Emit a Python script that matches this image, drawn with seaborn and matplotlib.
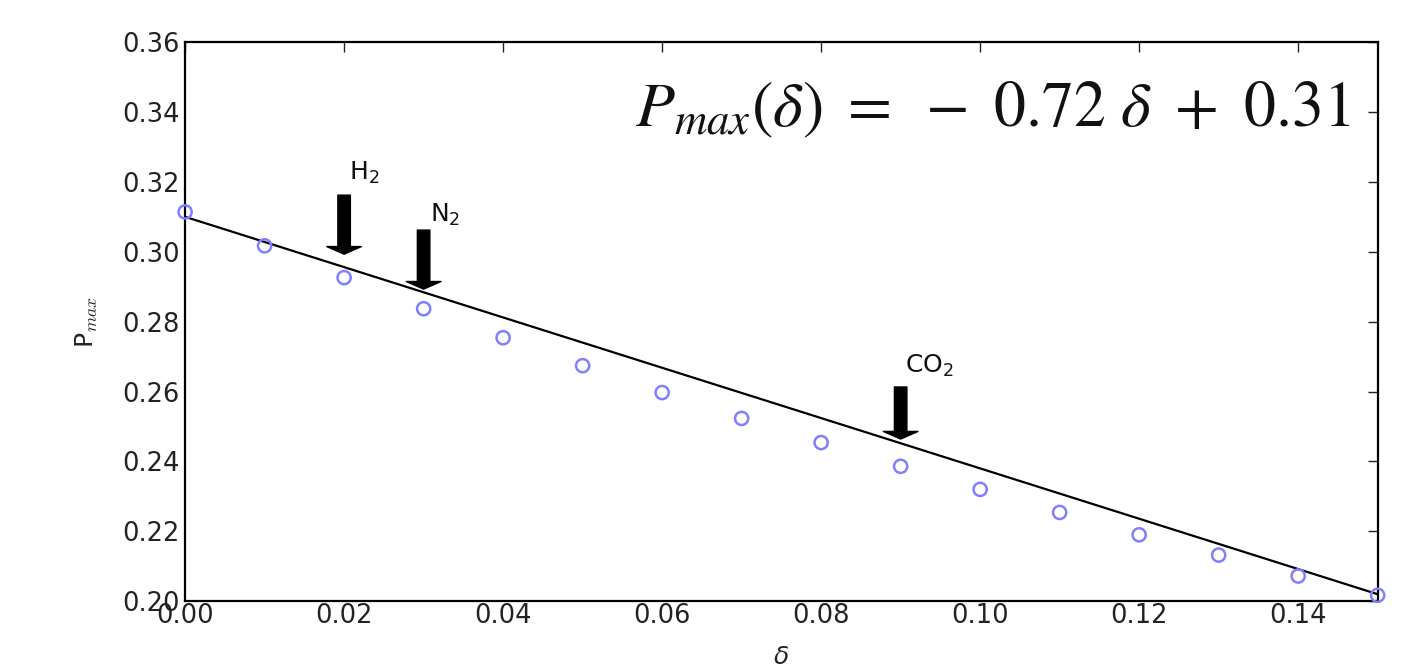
import numpy as np
import pandas as pd
import matplotlib
matplotlib.use("Agg")
import matplotlib.pyplot as plt
import seaborn as sns

# Data
delta = [0.00, 0.01, 0.02, 0.03, 0.04, 0.05, 0.06, 0.07, 0.08, 0.09, 0.10, 0.11, 0.12, 0.13, 0.14, 0.15]
pmax = [0.3114, 0.3017, 0.2926, 0.2837, 0.2754, 0.2674, 0.2597, 0.2523, 0.2454, 0.2386,
        0.2320, 0.2254, 0.2190, 0.2132, 0.2072, 0.2017]
fit_slope = -0.72
fit_intercept = 0.31
gas_labels = ["H$_2$", "N$_2$", "CO$_2$"]
gas_delta = [0.02, 0.03, 0.09]
xticks = [0.00, 0.02, 0.04, 0.06, 0.08, 0.10, 0.12, 0.14]
yticks = [0.20, 0.22, 0.24, 0.26, 0.28, 0.30, 0.32, 0.34, 0.36]

# annotation layout (arrow tip, arrow length, label baseline)
arrow_tip = [0.2993, 0.2893, 0.2464]
arrow_len = [0.0169, 0.0169, 0.0149]
label_x = [0.0206, 0.0308, 0.0905]
label_y = [0.3205, 0.3085, 0.2653]

sns.set_style("white")
plt.rcParams["font.family"] = ["DejaVu Sans"]
plt.rcParams["mathtext.fontset"] = "dejavusans"

fig = plt.figure(figsize=(14.13, 6.68), dpi=100)
ax = fig.add_axes([0.131, 0.100, 0.844, 0.837])

df = pd.DataFrame({"delta": delta, "pmax": pmax})
sns.scatterplot(data=df, x="delta", y="pmax", ax=ax, marker="o", s=90,
                facecolor="none", edgecolor=(0.5, 0.5, 1.0), linewidth=1.8, zorder=3, clip_on=False)

fit_x = np.array([delta[0], delta[-1]])
fit_df = pd.DataFrame({"x": fit_x, "y": fit_slope * fit_x + fit_intercept})
sns.lineplot(data=fit_df, x="x", y="y", ax=ax, color="black", linewidth=1.6, zorder=2)

ax.set_xlim(0, 0.15)
ax.set_ylim(0.20, 0.36)
ax.set_xticks(xticks)
ax.set_yticks(yticks)
ax.set_xticklabels([f"{t:.2f}" for t in xticks])
ax.set_yticklabels([f"{t:.2f}" for t in yticks])
ax.tick_params(direction="in", length=7, width=1, top=True, right=True,
               labelsize=18.5, colors="#222222", pad=4)
ax.tick_params(axis="x", pad=1)
for s in ax.spines.values():
    s.set_linewidth(1.6)
    s.set_color("black")

ax.set_xlabel(r"$\delta$", fontsize=18, labelpad=12)
ax.set_ylabel(r"P$_{max}$", fontsize=18, labelpad=16, math_fontfamily="cm")

for lab, d, tip, ln, lx, ly in zip(gas_labels, gas_delta, arrow_tip, arrow_len, label_x, label_y):
    ax.annotate("", xy=(d, tip), xytext=(d, tip + ln),
                arrowprops=dict(facecolor="black", edgecolor="black", width=9,
                                headwidth=25, headlength=5.5, shrink=0))
    ax.text(lx, ly, lab, fontsize=18, ha="left", va="baseline", color="#111111")

ax.text(0.1465, 0.3358, r"$P_{max}(\delta)\ =\ -\ 0.72\ \delta\ +\ 0.31$", fontsize=46,
        ha="right", va="baseline", math_fontfamily="stix", color="#111111")

fig.savefig("out.png", dpi=100)
